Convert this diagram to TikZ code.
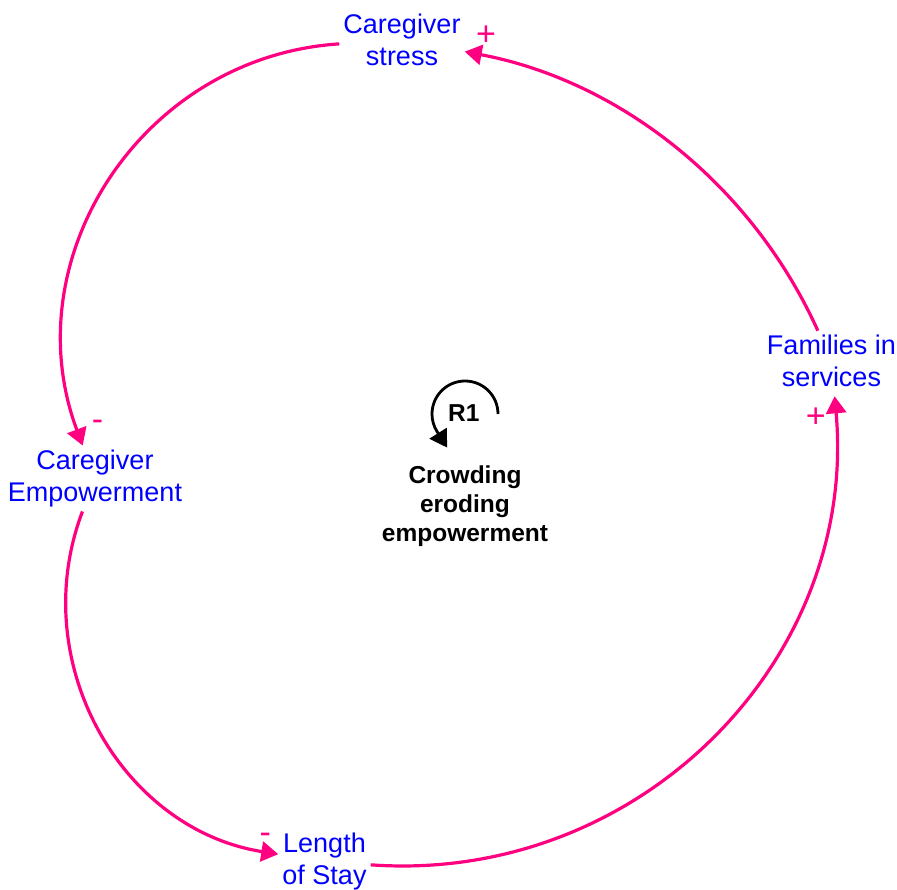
\documentclass[tikz,border=0pt]{standalone}
\usepackage{fontspec}
\setmainfont{Liberation Sans}
\usetikzlibrary{arrows.meta}
\definecolor{linkpink}{RGB}{255,0,128}
\definecolor{varblue}{RGB}{0,0,255}
\begin{document}
\begin{tikzpicture}[x=1pt,y=-1pt,
  var/.style={align=center, text=varblue, inner sep=4pt,
    font=\fontsize{27}{32.4}\selectfont},
  link/.style={draw=linkpink, line width=3.2pt,
    -{Triangle[length=17pt,width=20pt]}},
  polarity/.style={text=linkpink, inner sep=0pt, anchor=base,
    font=\fontsize{34}{34}\selectfont},
  looplabel/.style={align=center, inner sep=0pt,
    font=\fontsize{24.5}{29.2}\selectfont\bfseries},
  loopline/.style={line width=2.8pt, -{Triangle[length=17pt,width=20pt]}}]
\useasboundingbox (0,0) rectangle (897,889);

% variables
\node[var] (stress) at (402,39.8)   {Caregiver\\stress};
\node[var] (fam)    at (831.5,361)  {Families in\\services};
\node[var] (emp)    at (95,478.5)   {Caregiver\\Empowerment};
\node[var] (len)    at (324.5,861.5){Length\\of Stay};

% loop identifier
\node[looplabel] (r1)    at (463.8,412.9) {R1};
\node[looplabel] (crowd) at (465,506.1)   {Crowding\\eroding\\empowerment};
\draw[loopline] ([shift={(34.2,1.1)}]r1.center)
  arc[start angle=0, end angle=-212, radius=33] -- ++(10.1,16.1);

% causal links
\draw[link] (stress) .. controls (141.9,56.7) and (12.6,258.3) .. (emp);
\draw[link] (emp) .. controls (25.2,662) and (121.4,829.3) .. (len);
\draw[link, shorten >=5pt] (len) .. controls (637.7,884) and (858.3,661.5) .. (fam);
\draw[link] (fam) .. controls (752.3,185.6) and (620.6,81.1) .. (stress);

% link polarities
\node[polarity] (p1) at (486,45.3)   {+};
\node[polarity] (p2) at (97.5,430.7) {-};
\node[polarity] (p3) at (265.3,843)  {-};
\node[polarity] (p4) at (815.8,427.3){+};
\end{tikzpicture}
\end{document}
